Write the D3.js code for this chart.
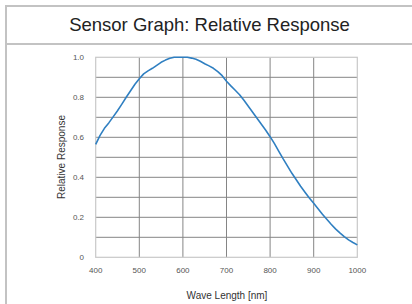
<!DOCTYPE html>
<html>
<head>
<meta charset="utf-8">
<script src="https://cdn.jsdelivr.net/npm/d3@7"></script>
<style>
  html, body { margin: 0; padding: 0; background: #fff; }
  svg { display: block; font-family: "Liberation Sans", Arial, sans-serif; }
</style>
</head>
<body>
<svg id="chart" width="412" height="304"></svg>
<script>
// wavelength samples (nm) and relative response
const waveLength = [400, 410, 420, 430, 440, 450, 460, 470, 480, 490,
  500, 510, 520, 530, 540, 550, 560, 570, 580, 590,
  600, 610, 620, 630, 640, 650, 660, 670, 680, 690,
  700, 710, 720, 730, 740, 750, 760, 770, 780, 790,
  800, 810, 820, 830, 840, 850, 860, 870, 880, 890,
  900, 910, 920, 930, 940, 950, 960, 970, 980, 990, 1000];
const response = [0.565, 0.61, 0.645, 0.672, 0.702, 0.733, 0.766, 0.80, 0.833, 0.865,
  0.893, 0.917, 0.932, 0.945, 0.96, 0.975, 0.986, 0.995, 1.0, 1.0,
  1.0, 1.0, 0.996, 0.99, 0.98, 0.968, 0.957, 0.945, 0.928, 0.908,
  0.88, 0.857, 0.835, 0.813, 0.785, 0.755, 0.725, 0.695, 0.665, 0.635,
  0.603, 0.568, 0.53, 0.492, 0.456, 0.42, 0.388, 0.355, 0.325, 0.296,
  0.27, 0.243, 0.215, 0.19, 0.165, 0.142, 0.122, 0.103, 0.087, 0.074, 0.062];
const xTicks = [400, 500, 600, 700, 800, 900, 1000];
const yGrid = [0, 0.1, 0.2, 0.3, 0.4, 0.5, 0.6, 0.7, 0.8, 0.9, 1.0];
const yTicks = [0, 0.2, 0.4, 0.6, 0.8, 1.0];

const svg = d3.select("#chart");

// frame around the panel
const frame = "#c3c3c3";
svg.append("rect").attr("x", 5).attr("y", 5).attr("width", 407).attr("height", 2).attr("fill", frame);
svg.append("rect").attr("x", 5).attr("y", 5).attr("width", 2).attr("height", 299).attr("fill", frame);
svg.append("rect").attr("x", 5).attr("y", 43).attr("width", 407).attr("height", 2).attr("fill", frame);

svg.append("text")
  .attr("x", 209.5).attr("y", 31)
  .attr("text-anchor", "middle")
  .attr("font-size", "18.5px")
  .attr("fill", "#222")
  .text("Sensor Graph: Relative Response");

const x = d3.scaleLinear().domain([400, 1000]).range([95.7, 357.3]);
const y = d3.scaleLinear().domain([0, 1]).range([257.3, 57.3]);

// grid
const grid = svg.append("g");
grid.selectAll("line.h")
  .data(yGrid.filter(d => d > 0 && d < 1))
  .enter().append("line")
  .attr("x1", x(400)).attr("x2", x(1000))
  .attr("y1", d => y(d)).attr("y2", d => y(d))
  .attr("stroke", "#858585").attr("stroke-width", 1);
grid.selectAll("line.v")
  .data(xTicks.filter(d => d > 400 && d < 1000))
  .enter().append("line")
  .attr("y1", y(0)).attr("y2", y(1))
  .attr("x1", d => x(d)).attr("x2", d => x(d))
  .attr("stroke", "#858585").attr("stroke-width", 1);

// plot box
svg.append("rect")
  .attr("x", x(400)).attr("y", y(1))
  .attr("width", x(1000) - x(400)).attr("height", y(0) - y(1))
  .attr("fill", "none").attr("stroke", "#c8c8c8").attr("stroke-width", 1.2);

// tick labels
svg.append("g").selectAll("text")
  .data(yTicks)
  .enter().append("text")
  .attr("x", 84).attr("y", d => y(d))
  .attr("dy", "0.35em")
  .attr("text-anchor", "end")
  .attr("font-size", "8px")
  .attr("fill", "#555")
  .text(d => d === 0 ? "0" : d3.format(".1f")(d));

svg.append("g").selectAll("text")
  .data(xTicks)
  .enter().append("text")
  .attr("x", d => x(d)).attr("y", 273)
  .attr("text-anchor", "middle")
  .attr("font-size", "8px")
  .attr("fill", "#555")
  .text(d => d);

svg.append("text")
  .attr("x", 227).attr("y", 299)
  .attr("text-anchor", "middle")
  .attr("font-size", "10px")
  .attr("fill", "#333")
  .text("Wave Length [nm]");

svg.append("text")
  .attr("transform", "translate(64.5,157) rotate(-90)")
  .attr("text-anchor", "middle")
  .attr("font-size", "10px")
  .attr("fill", "#333")
  .text("Relative Response");

// response curve
const line = d3.line()
  .x((d, i) => x(waveLength[i]))
  .y(d => y(d));

svg.append("path")
  .datum(response)
  .attr("d", line)
  .attr("fill", "none")
  .attr("stroke", "#2f7fc1")
  .attr("stroke-width", 1.6)
  .attr("stroke-linejoin", "round");
</script>
</body>
</html>
